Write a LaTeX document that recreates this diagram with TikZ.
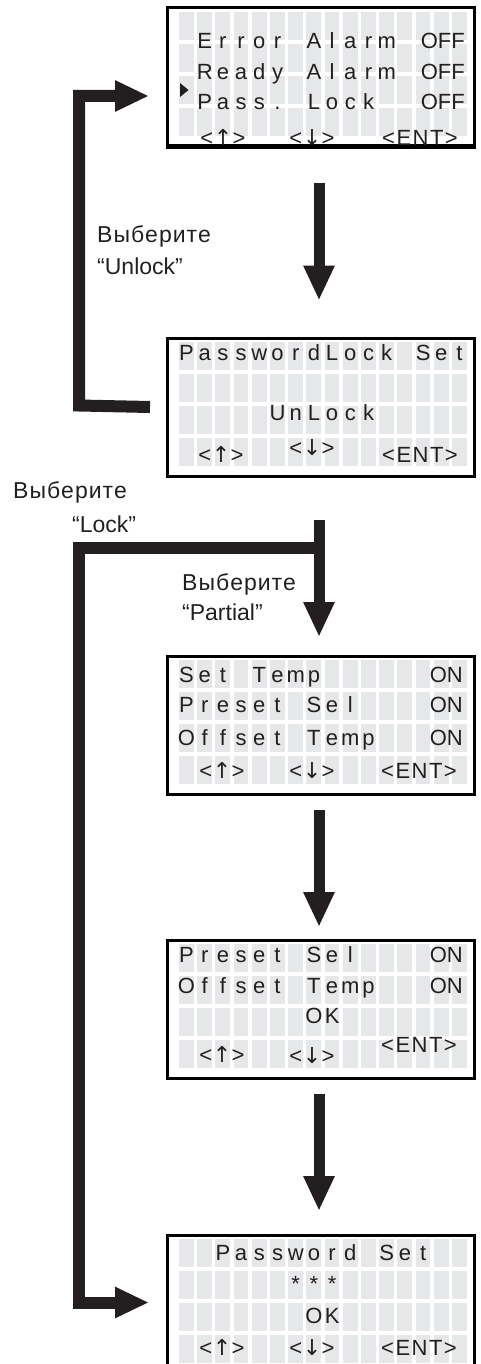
\documentclass[tikz,border=0pt]{standalone}
\usepackage{fontspec}
\setmainfont{Liberation Sans}
\newfontfamily\arrfont{DejaVu Sans}
\usetikzlibrary{arrows.meta,calc}
\definecolor{ink}{HTML}{231F20}
\definecolor{cellgray}{HTML}{E6E7E8}
\tikzset{
  lcd/.style={font=\fontsize{22}{22}\selectfont, text=ink, inner sep=0pt, anchor=base},
  lbl/.style={font=\fontsize{23}{23}\selectfont, text=ink, inner sep=0pt, anchor=base west},
  screen/.style={draw=black, line width=3pt, inner sep=0pt, minimum width=307pt, minimum height=138pt, anchor=north west},
  flow/.style={draw=ink, line width=11pt, -{Triangle[length=35pt,width=29pt]}},
  loopflow/.style={draw=ink, line width=12pt, line join=miter, -{Triangle[length=34pt,width=29pt]}},
}
\newcommand\lcdgrid[1]{%
  \foreach \cc in {0,...,15}{\foreach \rr in {0,...,3}{%
    \fill[cellgray] ({179+18.2*\cc},{#1+7+32*\rr}) rectangle ++(14.8,28);}}}
\newcommand\lcdrow[4]{%
  \foreach \ch [count=\ii from #2] in {#4}{%
    \node[lcd] (#1-\ii) at ({186.5+18.2*(\ii-1)},#3) {\ch};}}
\newcommand\lcdup{<\kern0.5pt{\arrfont ↑}\kern0.5pt>}
\newcommand\lcddown{<\kern0.5pt{\arrfont ↓}\kern0.5pt>}
\newcommand\lcdent{<\kern1.5pt E\kern1.5pt N\kern1.5pt T\kern1.5pt >}
\newcommand\vyb{В\kern1pt ы\kern1pt б\kern1pt е\kern1pt р\kern1pt и\kern1pt т\kern1pt е}
\begin{document}
\begin{tikzpicture}[x=1pt,y=-1pt]
\useasboundingbox (0,0) rectangle (481,1364);
% ---------- grids ----------
\lcdgrid{5}
\lcdgrid{335}
\lcdgrid{653}
\lcdgrid{937}
\lcdgrid{1232}
% ---------- screens ----------
\node[screen] (b1) at (165.5,6.5) {};
\node[screen] (b2) at (165.5,336.5) {};
\node[screen] (b3) at (165.5,654.5) {};
\node[screen] (b4) at (165.5,938.5) {};
\node[screen] (b5) at (165.5,1233.5) {};
% ---------- screen 1 ----------
\lcdrow{t1a}{2}{49}{E,r,r,o,r}
\lcdrow{t1b}{8}{49}{A,l,a,r,m}
\node[lcd,anchor=base east] (t1c) at (465,49) {OFF};
\lcdrow{t1d}{2}{80}{R,e,a,d,y}
\lcdrow{t1e}{8}{80}{A,l,a,r,m}
\node[lcd,anchor=base east] (t1f) at (465,80) {OFF};
\lcdrow{t1g}{2}{110}{P,a,s,s,.}
\lcdrow{t1h}{8}{110}{L,o,c,k}
\node[lcd,anchor=base east] (t1i) at (465,110) {OFF};
\fill[ink] (180,83) -- (188.5,90) -- (180,97) -- cycle;
\node[lcd] (t1j) at (223,146) {\lcdup};
\node[lcd] (t1k) at (312,146) {\lcddown};
\node[lcd] (t1l) at (420,146) {\lcdent};
\draw[black,line width=3pt] (b1.south west) -- (b1.south east);
% ---------- screen 2 ----------
\lcdrow{t2a}{1}{360}{P,a,s,s,w,o,r,d,L,o,c,k}
\lcdrow{t2b}{14}{360}{S,e,t}
\lcdrow{t2c}{6}{420}{U,n,L,o,c,k}
\node[lcd] (t2d) at (221,462) {\lcdup};
\node[lcd] (t2e) at (312,455) {\lcddown};
\node[lcd] (t2f) at (420,462) {\lcdent};
% ---------- screen 3 ----------
\lcdrow{t3a}{1}{682}{S,e,t}
\lcdrow{t3b}{5}{682}{T,e,m,p}
\node[lcd,anchor=base east] (t3c) at (463,682) {ON};
\lcdrow{t3d}{1}{712}{P,r,e,s,e,t}
\lcdrow{t3e}{8}{712}{S,e,l}
\node[lcd,anchor=base east] (t3f) at (463,712) {ON};
\lcdrow{t3g}{1}{745}{O,f,f,s,e,t}
\lcdrow{t3h}{8}{745}{T,e,m,p}
\node[lcd,anchor=base east] (t3i) at (463,745) {ON};
\node[lcd] (t3j) at (222,778) {\lcdup};
\node[lcd] (t3k) at (312,778) {\lcddown};
\node[lcd] (t3l) at (419,778) {\lcdent};
% ---------- screen 4 ----------
\lcdrow{t4a}{1}{962}{P,r,e,s,e,t}
\lcdrow{t4b}{8}{962}{S,e,l}
\node[lcd,anchor=base east] (t4c) at (463,962) {ON};
\lcdrow{t4d}{1}{993}{O,f,f,s,e,t}
\lcdrow{t4e}{8}{993}{T,e,m,p}
\node[lcd,anchor=base east] (t4f) at (463,993) {ON};
\lcdrow{t4g}{8}{1023}{O,K}
\node[lcd] (t4h) at (222,1062) {\lcdup};
\node[lcd] (t4i) at (312,1063) {\lcddown};
\node[lcd] (t4j) at (419,1052) {\lcdent};
% ---------- screen 5 ----------
\lcdrow{t5a}{3}{1260}{P,a,s,s,w,o,r,d}
\lcdrow{t5b}{12}{1260}{S,e,t}
\lcdrow{t5c}{7}{1291}{*,*,*}
\lcdrow{t5d}{8}{1323}{O,K}
\node[lcd] (t5e) at (222,1355) {\lcdup};
\node[lcd] (t5f) at (312,1355) {\lcddown};
\node[lcd] (t5g) at (419,1355) {\lcdent};
% ---------- down arrows ----------
\coordinate (a1s) at ($(b1.south)+(-1.5,36)$);
\coordinate (a1e) at ($(b2.north)+(-1.5,-36)$);
\coordinate (a2s) at ($(b2.south)+(-1.5,42.5)$);
\coordinate (a2e) at ($(b3.north)+(-1.5,-17.5)$);
\coordinate (a3s) at ($(b3.south)+(-1.5,14.5)$);
\coordinate (a3e) at ($(b4.north)+(-1.5,-11.5)$);
\coordinate (a4s) at ($(b4.south)+(-1.5,14.5)$);
\coordinate (a4e) at ($(b5.north)+(-1.5,-22.5)$);
\draw[flow] (a1s) -- (a1e);
\draw[flow] (a2s) -- (a2e);
\draw[flow] (a3s) -- (a3e);
\draw[flow] (a4s) -- (a4e);
% ---------- loop: Unlock ----------
\coordinate (u1) at ($(b2.west)+(-15.5,0)$);
\coordinate (u2) at (79,405.5);
\coordinate (u3) at ($(b1.west)+(-16.5,19)$);
\draw[loopflow] (u1) -- (u2) |- (u3);
% ---------- loop: Lock ----------
\coordinate (l1) at (317.5,548);
\coordinate (l2) at (79,548);
\coordinate (l3) at ($(b5.west)+(-16.5,-1.5)$);
\draw[loopflow] (l1) -- (l2) |- (l3);
% ---------- labels ----------
\node[lbl] (n1) at (97,243) {\vyb};
\node[lbl] (n2) at (97,274) {“Unlock”};
\node[lbl] (n3) at (13,498) {\vyb};
\node[lbl] (n4) at (72,532) {“Lock”};
\node[lbl] (n5) at (182,590) {\vyb};
\node[lbl] (n6) at (182,620) {“Partial”};
\end{tikzpicture}
\end{document}
